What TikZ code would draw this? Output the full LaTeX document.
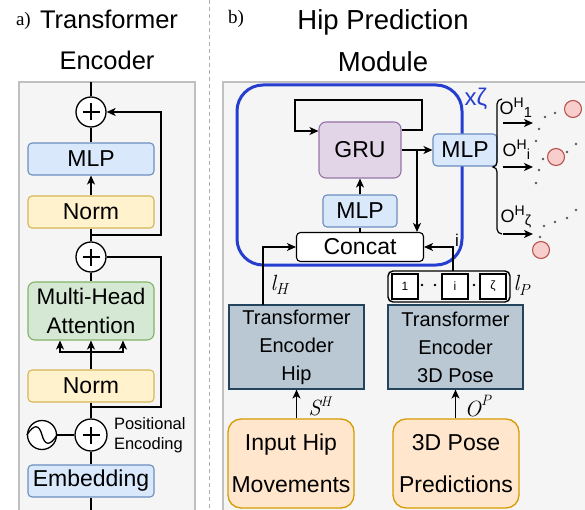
\documentclass[tikz,border=0pt]{standalone}
\usepackage{fontspec}
\setmainfont{Liberation Sans}
\newfontfamily\serifa{Liberation Serif}
\newfontfamily\lmfont{Latin Modern Roman}
\usetikzlibrary{arrows.meta,calc}
\definecolor{panelfill}{HTML}{F5F5F5}
\definecolor{panelline}{HTML}{C0C0C0}
\definecolor{bluefill}{HTML}{DAE8FC}
\definecolor{blueline}{HTML}{6C8EBF}
\definecolor{yelfill}{HTML}{FFF2CC}
\definecolor{yelline}{HTML}{D6B656}
\definecolor{grnfill}{HTML}{D5E8D4}
\definecolor{grnline}{HTML}{82B366}
\definecolor{purfill}{HTML}{E1D5E7}
\definecolor{purline}{HTML}{9673A6}
\definecolor{encfill}{HTML}{BAC8D3}
\definecolor{encline}{HTML}{23445D}
\definecolor{orfill}{HTML}{FFE6CC}
\definecolor{orline}{HTML}{D79B00}
\definecolor{redfill}{HTML}{F8CECC}
\definecolor{redline}{HTML}{B85450}
\definecolor{loopblue}{RGB}{38,62,208}
\tikzset{
  arr/.style={-{Stealth[length=9pt,width=8pt,inset=2.5pt]}},
  box/.style={draw, rounded corners=4pt, minimum width=126pt, minimum height=32pt, inner sep=0pt, align=center, font=\fontsize{23}{27}\selectfont, line width=1.1pt},
  bluebox/.style={box, fill=bluefill, draw=blueline},
  yelbox/.style={box, fill=yelfill, draw=yelline},
  grnbox/.style={box, fill=grnfill, draw=grnline, rounded corners=7pt},
  encbox/.style={draw=encline, fill=encfill, minimum width=135pt, minimum height=84pt, inner sep=0pt, align=center, line width=1.1pt, font=\fontsize{20}{28}\selectfont},
  inbox/.style={draw=orline, fill=orfill, rounded corners=13pt, minimum width=126pt, minimum height=89pt, inner sep=0pt, align=center, line width=1.3pt, font=\fontsize{23}{42}\selectfont},
  plusnode/.style={circle, draw, fill=white, minimum size=30pt, inner sep=0pt, line width=1.3pt,
    path picture={\draw[line width=2.4pt] ([xshift=-8.5pt]path picture bounding box.center) -- ([xshift=8.5pt]path picture bounding box.center) ([yshift=-8.5pt]path picture bounding box.center) -- ([yshift=8.5pt]path picture bounding box.center);}},
  smallsq/.style={draw, fill=white, minimum width=26pt, minimum height=25pt, inner sep=0pt, line width=1.1pt, font=\fontsize{12}{12}\selectfont},
  gdot/.style={fill=black!65, draw=none},
  outcirc/.style={circle, fill=redfill, draw=redline, line width=1.1pt, minimum size=17pt, inner sep=0pt},
  mathlab/.style={anchor=base west, inner sep=0pt, font=\lmfont\itshape\fontsize{22}{22}\selectfont},
  outlab/.style={anchor=base west, inner sep=0pt, font=\fontsize{18}{18}\selectfont},
}
\begin{document}
\begin{tikzpicture}[x=1pt,y=-1pt,line width=1.4pt]
\useasboundingbox (0,0) rectangle (585,510);
% titles
\node[font=\serifa\fontsize{19}{19}\selectfont, anchor=base west] (ta) at (12,26) {a)};
\node[font=\fontsize{25.5}{25.5}\selectfont, anchor=base] (tt1) at (109,29) {Transformer};
\node[font=\fontsize{25.5}{25.5}\selectfont, anchor=base] (tt2) at (107,70) {Encoder};
\node[font=\serifa\fontsize{19}{19}\selectfont, anchor=base west] (tb) at (224,24) {b)};
\node[font=\fontsize{27.5}{27.5}\selectfont, anchor=base] (th1) at (383,30) {Hip Prediction};
\node[font=\fontsize{27.5}{27.5}\selectfont, anchor=base] (th2) at (383,72) {Module};
% divider
\draw[panelline!90!black, line width=1pt, dash pattern=on 4pt off 3pt] (209,0) -- (209,510);
% left panel
\fill[panelfill] (19,82) rectangle (195,515);
\draw[panelline, line width=1.1pt] (19,515) -- (19,82) -- (195,82) -- (195,515);
% right panel
\fill[panelfill] (223,82) rectangle (590,515);
\draw[panelline, line width=1.1pt] (223,515) -- (223,82) -- (590,82);

% ---- left: transformer encoder
\coordinate (ltop) at (91,82);
\coordinate (lbot) at (91,515);
\node[plusnode] (p1) at (91,112) {};
\node[bluebox] (mlpL) at (91,159) {MLP};
\node[yelbox] (norm1) at (91,212) {Norm};
\node[plusnode] (p2) at (91,257) {};
\node[grnbox, minimum height=58pt, font=\fontsize{22.5}{29}\selectfont] (mha) at (91,311) {Multi-Head\\Attention};
\node[yelbox] (norm2) at (91,386) {Norm};
\node[plusnode, minimum size=32pt] (p3) at (91,435) {};
\node[circle, draw, fill=white, minimum size=29pt, inner sep=0pt, line width=1.3pt] (sine) at (42,435) {};
\draw[line width=1.3pt] (sine.west) .. controls (34,424) and (39,424) .. (sine.center) .. controls (45,446) and (50,446) .. (sine.east);
\node[font=\fontsize{16.5}{20}\selectfont, align=left, anchor=west] (posenc) at (110,435) {Positional\\Encoding};
\node[bluebox] (emb) at (91,481) {Embedding};
\coordinate (j1) at (91,235);
\coordinate (j2) at (91,407);
\coordinate (br) at (91,352);

\draw (ltop) -- (p1.north);
\draw (p1.south) -- (mlpL.north);
\draw[arr] (norm1.north) -- (mlpL.south);
\draw (norm1.south) -- (p2.north);
\draw[arr] (j1) -- ++(70,0) |- (p1.east);
\draw (p2.east) -- (161,257) |- (j2);
\draw (p2.south) -- (mha.north);
\draw[arr] (norm2.north) -- (mha.south);
\draw[arr] (br) -| ([xshift=-31pt]mha.south);
\draw[arr] (br) -| ([xshift=32pt]mha.south);
\draw (norm2.south) -- (p3.north);
\draw (sine.east) -- (p3.west);
\draw (p3.south) -- (emb.north);
\draw (emb.south) -- (lbot);

% ---- right: hip prediction module
\draw[loopblue, line width=3pt, rounded corners=26pt] (237,85) rectangle (462,265);
\node[text=loopblue, font=\fontsize{24}{24}\selectfont] (xz) at (476,99) {xζ};
\node[box, fill=purfill, draw=purline, minimum width=82pt, minimum height=56pt, rounded corners=7pt] (gru) at (360,150) {GRU};
\node[bluebox, minimum width=64pt] (mlpR) at (465,150) {MLP};
\node[bluebox, minimum width=74pt] (mlpM) at (360,211) {MLP};
\node[box, fill=white, draw=black, minimum width=127pt, minimum height=29pt] (concat) at (360,247) {Concat};
\coordinate (gb) at (417,150);
\draw[arr] (gru.east |- 0,130) -- (422,130) -- (422,100) -- (295,100) -- (295,131) -- (gru.west |- 0,131);
\draw[arr] (gru.east) -- (mlpR.west);
\draw[arr] (gb) -- (gb |- concat.north);
\draw (concat.north) -- (mlpM.south);
\draw[arr] (mlpM.north) -- (gru.south);

% encoders
\node[encbox] (encH) at (296.5,347) {Transformer\\Encoder\\Hip};
\node[encbox] (encP) at (455.5,347) {Transformer\\Encoder\\3D Pose};
\node[inbox] (inH) at (291,463.5) {Input Hip\\Movements};
\node[inbox] (inP) at (456,463.5) {3D Pose\\Predictions};
\draw[arr] (encH.south |- inH.north) -- (encH.south);
\draw[arr] (encP.south |- inP.north) -- (encP.south);
\node[mathlab] (sh) at (308,415) {S\raisebox{9pt}{\fontsize{14}{14}\selectfont H}};
\node[mathlab] (op) at (464,416) {O\raisebox{11pt}{\fontsize{15}{15}\selectfont P}};

% l_P box
\node[draw, rounded corners=5pt, minimum width=122pt, minimum height=31pt, inner sep=0pt, line width=1.4pt] (lp) at (449,286.5) {};
\node[smallsq] (s1) at (405,286.5) {1};
\node[smallsq] (si) at (455,286.5) {i};
\node[smallsq] (sz) at (493,286.5) {ζ};
\fill (422,285) circle (1.4pt) (435,285) circle (1.4pt) (474,285) circle (1.4pt);
\node[mathlab] (lpl) at (513,290) {l\raisebox{-5pt}{\fontsize{16}{16}\selectfont P}};
\node[mathlab] (lhl) at (270,290) {l\raisebox{-4pt}{\fontsize{16}{16}\selectfont H}};

\coordinate (hout) at (263,305);
\coordinate (pout) at (453,271);
\draw[arr] (hout) |- (concat.west);
\draw[arr] (pout) |- (concat.east);
\node[font=\fontsize{17}{17}\selectfont] (ilab) at (457,240) {i};

% outputs
\draw[line width=1.2pt] (502,99) to[out=180,in=90] (497,104) -- (497,162) to[out=-90,in=0] (493,167) to[out=0,in=90] (497,172) -- (497,229) to[out=-90,in=180] (502,234);
\coordinate (a1s) at (503,123); \coordinate (a1e) at (533,123);
\coordinate (a2s) at (503,167); \coordinate (a2e) at (533,167);
\coordinate (a3s) at (503,234); \coordinate (a3e) at (533,234);
\draw[arr] (a1s) -- (a1e);
\draw[arr] (a2s) -- (a2e);
\draw[arr] (a3s) -- (a3e);
\node[outlab] (o1) at (499,115) {O\raisebox{7pt}{\fontsize{14}{14}\selectfont H}\raisebox{-2.5pt}{\fontsize{14.5}{14.5}\selectfont 1}};
\node[outlab] (o2) at (502,157) {O\raisebox{7pt}{\fontsize{14}{14}\selectfont H}\raisebox{-2.5pt}{\fontsize{14.5}{14.5}\selectfont i}};
\node[outlab] (o3) at (500,223) {O\raisebox{7pt}{\fontsize{14}{14}\selectfont H}\raisebox{-2.5pt}{\fontsize{14.5}{14.5}\selectfont ζ}};
\foreach \p in {(539,129),(545,117),(555,113),(536,141),(543,159),(539,170),(536,183),(567,152),(576,144),(576,210),(567,218),(555,222),(544,226),(540,237)}
  \fill[gdot] \p circle (1.3pt);
\node[outcirc] (c1) at (573,109) {};
\node[outcirc] (c2) at (556,157) {};
\node[outcirc] (c3) at (541,250) {};
\end{tikzpicture}
\end{document}
